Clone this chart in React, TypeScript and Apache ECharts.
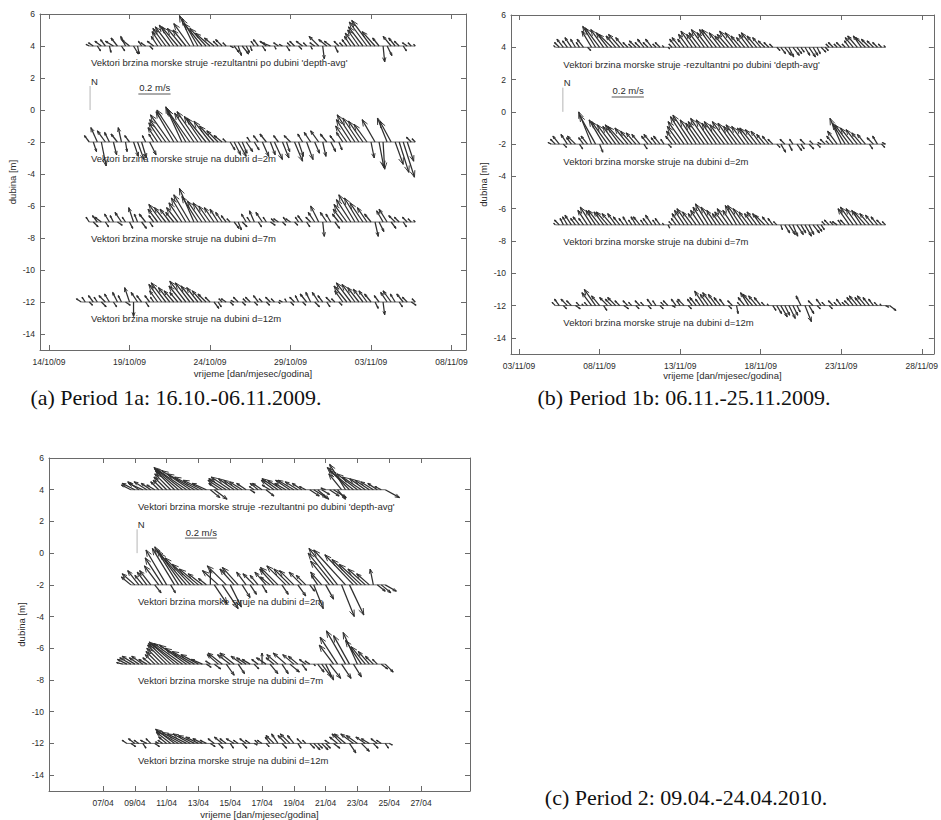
import React, { useEffect, useRef } from "react";
import * as echarts from "echarts";

// ---------------- data ----------------
// current vectors sampled every 6 hours; u = east, v = north, in cm/s
const STEP_DAYS = 0.25;
const KX = 0.1; // days per cm/s (0.2 m/s reference bar = 2 days)
const KY = 0.1; // metres of plot per cm/s

const BASELINES = [4, -2, -7, -12];
const ROW_LABELS = [
  "Vektori brzina morske struje -rezultantni po dubini 'depth-avg'",
  "Vektori brzina morske struje na dubini d=2m",
  "Vektori brzina morske struje na dubini d=7m",
  "Vektori brzina morske struje na dubini d=12m",
];
const Y_TICKS = [-14, -12, -10, -8, -6, -4, -2, 0, 2, 4, 6];
const X_NAME = "vrijeme [dan/mjesec/godina]";
const Y_NAME = "dubina [m]";
const SCALE_TEXT = "0.2 m/s";
const NORTH_TEXT = "N";
const SCALE_SPEED = 20; // cm/s
const CAPTIONS = [
  "(a) Period 1a: 16.10.-06.11.2009.",
  "(b) Period 1b: 06.11.-25.11.2009.",
  "(c) Period 2: 09.04.-24.04.2010.",
];

// Panel (a): day numbers counted from 0 October 2009
const A_X_TICKS = [14, 19, 24, 29, 34, 39];
const A_X_LABELS = ["14/10/09", "19/10/09", "24/10/09", "29/10/09", "03/11/09", "08/11/09"];
const A_T0 = [16.5, 16.5, 16.5, 16.0];
const A1_U = [-2,-3,2,-4,-3,1,-5,-4,2,-3,-5,3,1,-2,-3,2,-4, -4,-6,-8,-9,-9,-10,-9,-8,-10,-9,-10,-11,-10,-9,-6,-3,-4,-2,2, 3,2,4,2,1, -2,-3,2,-4,-5,1,-3,-2,2,-2,-3,2,-4,-2,1,-3, -6,1,-5,-4,2,-3,-2, -3,-4,-6,-7,-9,-11,-12,-8,-4, 1,3,-5,-4,-3,2,-3,-2,-1];
const A1_V = [1,2,-3,3,4,-4,3,5,-3,6,4,-5,-5,3,2,-2,3, 6,9,11,12,13,12,11,10,14,19,17,14,11,8,5,3,4,2,-1, -4,-6,-5,-4,-3, 3,4,-3,3,2,-2,2,1,-3,2,3,-2,3,2,-2,2, 6,-8,4,3,-4,3,2, 4,6,8,10,12,15,16,9,5, -10,-6,6,5,3,-3,2,2,1];
const A2_U = [-3,2,-4,3,-5,-3,2,-4,-2,1,-3,3,4,3,-2,4,-3, -6,-8,-10,-12,-11,-13,-10,-12,-14,-12,-13,-11,-12,-10,-9,-7,-5,-2, 3,4,5,3,4, -2,3,-3,4,-4,3,5,-3,4,2,-4,5,3,-3,4,-4,3,-5,2,-4,3,-3,2,-4, -7,-9,-11,-10,-9,-8, 2,-8,3,1,-6,-7,5,6,7,4,-3,-2];
const A2_V = [4,-6,9,-15,7,6,-8,5,9,-6,4,-9,-11,-10,4,-8,5, 9,12,14,17,19,20,22,21,20,18,19,16,15,13,10,7,4,2, -5,-8,-9,-7,-6, 3,-5,4,-9,5,-8,-11,4,-10,-6,4,-12,-9,5,-11,6,-7,7,-9,5,-6,4,-5,6, 10,14,17,15,13,11, -10,14,-16,-17,15,13,-14,-19,-22,-12,3,2];
const A3_U = [-2,3,-3,-4,2,-3,-2,3,-4,-2,2,-3,-2,3,-4,2,-3, -6,-8,-7,-6,-5,-7,-8,-9,-10,-9,-10,-9,-8,-7,-6,-5,-4,-3,-2, 3,2,3, -3,-2,-3,2,-4,-2,3,-2,-3,2,-2,-3,2,-2,-3,2,-3,-4, -5,1,-4,-3,3,-4,-6,-8,-9,-10,-9,-8,-6,-4, 2,3,-4,-5,3,-4,-3,2,-3,-2,-1];
const A3_V = [3,-3,4,3,-3,5,4,-2,6,3,-4,9,5,-4,5,-3,4, 8,11,9,8,6,9,12,15,17,21,16,13,12,10,9,8,6,4,2, -4,-5,-3, 5,3,7,-3,6,3,-2,2,2,-2,3,2,-2,3,4,-3,3,6, 10,-9,6,5,-4,5,8,11,14,17,15,12,9,5, -9,-6,7,8,-4,4,3,-3,3,2,1];
const A4_U = [-3,-2,2,-3,-2,3,-4,-3,2,-3,-2,3,-3,0,-4,-3,2,-3,-2, -5,-8,-9,-7,-6,-5,-8,-10,-9,-8,-7,-6,-5,-3, 3,2,-2,-3,2,-2,-3,2,-2,-3,2,-3,-2,2,-3,-2,1,-2,-1,2,-3,-2,2,-4,-3,3,-4,-3,2,-3,-2,2, -5,-8,-9,-8,-7,-6,-5,-4, 2,-3,1,-4,-5,-3,2,-4,-3,3,-2];
const A4_V = [2,3,-2,4,3,-3,4,5,-3,6,4,-2,9,-9,6,4,-3,4,3, 7,11,12,9,7,6,10,13,12,10,9,7,5,3, -4,-3,2,2,-2,1,3,-2,2,3,-2,4,2,-2,3,2,-1,1,2,-2,3,4,-2,5,6,-3,6,4,-3,3,2,-2, 7,10,12,11,9,8,7,5, -4,4,-8,6,7,5,-3,5,3,-2,2];

// Panel (b): day numbers counted from 0 October 2009
const B_X_TICKS = [34, 39, 44, 49, 54, 59];
const B_X_LABELS = ["03/11/09", "08/11/09", "13/11/09", "18/11/09", "23/11/09", "28/11/09"];
const B_T0 = [36.25, 36.0, 36.25, 36.25];
const B1_U = [-1,-3,-4,-3,-4,-3,-2,-4,2, -6,-8,-9,-8,-7,-8,-6,-7,-5,-3,-2, -4,-3,-4,-3,-4,-2,-3,-1,1,-2, -4,-5,-4,-6,-7,-6,-7,-8,-7,-8,-9,-7,-6,-7,-8,-7,-6,-5,-6,-7,-6,-5,-4,-3,-2, 2,3,4,3,4,3,2,3,4,3,2,3,2, -2,-3,-2,-3,-2,-3,-5,-6,-5,-6,-5,-4,-3,-2,-1];
const B1_V = [1,3,5,4,6,5,3,5,-2, 10,13,12,11,9,8,7,8,6,3,2, 4,3,5,3,5,2,3,1,-1,2, 5,6,5,8,10,8,9,11,9,11,11,9,7,8,10,9,7,6,8,9,7,6,4,3,2, -2,-4,-5,-6,-5,-4,-3,-5,-6,-5,-4,-3,-2, 2,3,2,3,2,4,6,7,7,6,5,4,3,2,1];
const B2_U = [-2,-3,-4,2,-4,-3,-5,2,-3,-4, -8,-10,2,-9,-10,-9,-8,-9,-10,-8,-7,-6,-5,2,-4,-5,-3,-4,-2, 2,-4,-6,-8,-10,-11,-12,-10,-9,-10,-11,-10,-9,-10,-9,-10,-9,-8,-9,-8,-7,-8,-7,-6,-5,-4,-3, 2,3,-3,2,-2,3,2,-3,3,-2,2,-2,-3,-2, -4,-6,-7,-8,-9,-8,-7,-6,-5,2,-4,-3,2,-2];
const B2_V = [1,3,5,-2,6,4,5,-3,4,5, 20,18,-5,15,14,12,11,12,11,10,8,7,6,-3,5,6,4,5,3, -2,5,8,11,14,17,18,15,13,14,16,15,13,14,12,14,13,11,12,11,10,10,9,8,6,5,3, -2,-5,3,-4,3,-4,-3,3,-3,2,-2,1,3,2, 5,8,16,13,12,10,9,7,6,-3,4,5,-2,1];
const B3_U = [-1,-3,-2,-3,-4,-3,-4,-3, -6,-7,-6,-7,-6,-7,-6,-5,-4,-3, -3,-2,-3,-4,-2,-3,-4,-2,-3,-1,1,-2, -3,-5,-6,-7,-6,-5,-6,-7,-8,-7,-6,-5,-6,-7,-6,-7,-8,-7,-6,-5,-6,-5,-6,-4,-3,-2, 1,3,4,3,4,3,4,3,4,3,2, -2,-3,-2,-3,-2,-3,-7,-8,-7,-6,-7,-6,-5,-4,-3,-2];
const B3_V = [1,3,4,5,6,4,5,4, 9,11,9,9,8,8,7,7,5,4, 5,3,5,5,3,4,6,3,4,1,-2,2, 4,7,9,10,8,7,9,11,13,11,9,7,8,10,9,12,12,10,8,7,8,7,6,5,4,2, -3,-5,-6,-7,-6,-5,-7,-6,-5,-4,-3, 2,3,2,2,3,3,10,11,10,9,8,7,6,5,3,2];
const B4_U = [-2,-3,2,-4,-3,3,-2,-1,-2, -6,-7,-5,2,-5,-4,-5,-3, 3,-3,-2,2,-3,-2,2,-3,-2,2,-2,-3,2,-3,-2,-4,2,-3,-4,-3, -6,-5,-6,-5,-4,-3,2,-3,1,-2,-4,-5,-6,-5,-4,-2,-1, 2,3,4,3,4,3,2,-3,4,3, -3,2,-3,-2,2,-3,-2,-3,-2,-3,-4,-5,-4,-5,-4,-3,-2,-1,2,4];
const B4_V = [2,4,-2,4,3,-2,2,1,2, 8,10,6,-3,5,4,5,3, -2,3,2,-2,3,2,-2,4,3,-2,2,3,-1,4,3,4,-2,4,5,4, 9,7,8,7,5,4,-2,3,-5,2,5,8,7,6,5,2,1, -3,-5,-7,-6,-8,-6,-4,6,-10,-5, 3,-2,4,2,-2,3,2,4,2,3,5,6,5,6,5,4,2,1,-1,-3];

// Panel (c): day numbers in April 2010
const C_X_TICKS = [7, 9, 11, 13, 15, 17, 19, 21, 23, 25, 27];
const C_X_LABELS = ["07/04", "09/04", "11/04", "13/04", "15/04", "17/04", "19/04", "21/04", "23/04", "25/04", "27/04"];
const C_T0 = [8.75, 8.75, 8.25, 8.5];
const C1_U = [-6,-8,-7,-9,-8,-6,-5, -5,-6,-8,-10,-12,-15,-18,-19,-18,-17,-15,-12,-9, 6,8, -6,-9,-11,-12,-10,-9,-8,-6, 3,-3,-5,-6,5,-5,-8,-10,-9,-7,-9,-10,-8,-6,-4, 6,8,7,5,-3,6,8,5, -8,-10,-14,-15,-13,-12,-10,-9,-8,-6,-4, 9];
const C1_V = [3,4,5,4,5,4,3, 5,6,8,10,12,13,14,13,12,10,8,6,4, -5,-6, 4,6,7,8,7,6,5,4, -2,2,4,4,-4,3,6,7,6,4,6,6,5,4,2, -4,-5,-6,-3,1,-4,-5,-6, 10,16,14,12,10,8,7,6,5,4,2, -5];
const C2_U = [-6,-8,-7,-5,-6,-7,4,-9,-11,-13,3,-14,-15,-16,-17,-16,-14,-12,-9,-5, 0,8,-10,10,-12,7,-9,-10,5,-6, 4,-7,-5,3,-7,-6,-9,-11,4,-12,-10,-9,5,-8,-6,3,6,-4,-7,5, -12,-16,-18,8,-20,9,-18,-16,-14,-11,-8, -2,5,6,7];
const C2_V = [5,7,9,6,8,9,-5,12,17,22,-5,23,24,22,20,17,13,10,7,4, 10,-12,9,-15,12,-14,10,11,-8,8, -6,7,6,-5,8,5,10,11,-6,12,10,9,-7,8,6,-4,-15,6,8,-9, 15,20,23,-20,22,-19,19,16,13,10,7, 10,-4,-5,-4];
const C3_U = [-4,-6,-7,-8,-6,-7,-5, -5,-6,-8,-10,-12,-14,-16,-17,-18,-17,-16,-14,-11,-7, 3,-3,4,-7,-9,5,-8,-9,4,-7,-6,-5,3,-4,0,-6,5,-5,-7,4,-8,6,-7,-6,3,-4,-3,1,4,6,5,7, -9,-11,6,-12,-10,5,-9,-10,-9,-7,-5,-3,4,5];
const C3_V = [1,3,4,5,4,5,3, 4,6,8,10,12,13,14,13,13,12,10,8,6,3, -2,2,-3,6,7,-7,6,7,-6,5,4,3,-3,3,7,4,-6,4,6,-6,7,-5,6,5,-4,3,2,-1,-5,-8,-10,-9, 12,17,-9,21,18,-8,20,15,11,8,5,3,-3,-5];
const C4_U = [-3,3,-4,-3,2,-4,-3,3,-2,-3,-5, -9,-12,-14,-13,-12,-11,-10,-8,-6,-4, 3,-4,3,-5,-4,2,-5,-3,3,-4,-3,2,-2,-3,2,-3,-5,-4,3,-5,-6,-4,2,-3,-2,3,4,3,4,3,-3,4, -5,-6,-7,4,-8,-7,5,-6,-5,3,-4,-3,2,2];
const C4_V = [2,-2,3,2,-3,2,3,-2,1,2,4, 7,9,8,7,6,6,5,4,3,2, -2,3,-3,4,3,-3,3,2,-3,3,2,-1,2,2,-2,4,5,6,-3,5,6,5,-3,3,2,-3,-4,-3,-4,-3,2,-3, 4,6,6,-6,6,5,-5,4,3,-3,3,2,-3,-1];

// ---------------- layout & style ----------------
const PANELS = [
  {
    grid: { left: 40, top: 14, width: 426, height: 336 },
    xMin: 13.44, xMax: 39.9, ticks: A_X_TICKS, labels: A_X_LABELS, xNameGap: 18,
    t0: A_T0, u: [A1_U, A2_U, A3_U, A4_U], v: [A1_V, A2_V, A3_V, A4_V],
    labelX: 16.6, northX: 16.55, scaleX: 19.55, scaleY: 1.0,
    caption: { x: 176, y: 397 },
  },
  {
    grid: { left: 511, top: 15, width: 424, height: 339 },
    xMin: 33.5, xMax: 59.75, ticks: B_X_TICKS, labels: B_X_LABELS, xNameGap: 16,
    t0: B_T0, u: [B1_U, B2_U, B3_U, B4_U], v: [B1_V, B2_V, B3_V, B4_V],
    labelX: 36.75, northX: 36.72, scaleX: 39.75, scaleY: 0.92,
    caption: { x: 684, y: 397 },
  },
  {
    grid: { left: 49, top: 458, width: 421, height: 336 },
    xMin: 3.6, xMax: 30.08, ticks: C_X_TICKS, labels: C_X_LABELS, xNameGap: 18,
    t0: C_T0, u: [C1_U, C2_U, C3_U, C4_U], v: [C1_V, C2_V, C3_V, C4_V],
    labelX: 9.2, northX: 9.14, scaleX: 12.15, scaleY: 0.95,
    caption: { x: 686, y: 797 },
  },
];

const SANS = "'Liberation Sans', Arial, Helvetica, sans-serif";
const SERIF = "'Liberation Serif', 'Times New Roman', serif";
const AXIS_COLOR = "#6a6a6a";
const TEXT_COLOR = "#2b2b2b";
const VEC_COLOR = "#2e2e2e";
const VEC_WIDTH = 1.25;
const TICK_FONT = 8.5;
const TEXT_FONT = 9.5;

const renderArrow = (params: any, api: any) => {
  const t = api.value(0);
  const b = api.value(1);
  const u = api.value(2);
  const v = api.value(3);
  const p0 = api.coord([t, b]);
  const p1 = api.coord([t + u * KX, b + v * KY]);
  const dx = p1[0] - p0[0];
  const dy = p1[1] - p0[1];
  const len = Math.hypot(dx, dy);
  const children: any[] = [
    {
      type: "line",
      shape: { x1: p0[0], y1: p0[1], x2: p1[0], y2: p1[1] },
      style: { stroke: VEC_COLOR, lineWidth: VEC_WIDTH },
    },
  ];
  if (len > 2) {
    const h = Math.min(len * 0.3, 7);
    const ang = Math.atan2(dy, dx);
    const a1 = ang + Math.PI - 0.36;
    const a2 = ang + Math.PI + 0.36;
    children.push({
      type: "polyline",
      shape: {
        points: [
          [p1[0] + h * Math.cos(a1), p1[1] + h * Math.sin(a1)],
          [p1[0], p1[1]],
          [p1[0] + h * Math.cos(a2), p1[1] + h * Math.sin(a2)],
        ],
      },
      style: { stroke: VEC_COLOR, fill: "none", lineWidth: VEC_WIDTH * 0.75 },
    });
  }
  return { type: "group", children };
};

const makeTextRenderer = (texts: string[]) => (params: any, api: any) => {
  const p = api.coord([api.value(0), api.value(1)]);
  return {
    type: "text",
    x: p[0],
    y: p[1],
    style: {
      text: texts[api.value(2)],
      fill: TEXT_COLOR,
      fontSize: TEXT_FONT,
      fontFamily: SANS,
      align: "left",
      verticalAlign: "middle",
      textAlign: "left",
      textVerticalAlign: "middle",
    },
  };
};

function buildOption() {
  const grid: any[] = [];
  const xAxis: any[] = [];
  const yAxis: any[] = [];
  const series: any[] = [];
  const graphic: any[] = [];

  PANELS.forEach((P, p) => {
    grid.push({ ...P.grid, containLabel: false });
    const fmt = (val: number) => {
      const k = P.ticks.findIndex((t) => Math.abs(t - val) < 1e-6);
      return k >= 0 ? P.labels[k] : "";
    };
    const axisLine = { onZero: false, lineStyle: { color: AXIS_COLOR, width: 1 } };
    xAxis.push({
      type: "value", gridIndex: p, position: "bottom", min: P.xMin, max: P.xMax,
      axisLine,
      axisTick: { inside: true, length: 5, customValues: P.ticks, lineStyle: { color: AXIS_COLOR } },
      axisLabel: { customValues: P.ticks, formatter: fmt, color: TEXT_COLOR, fontSize: TICK_FONT, fontFamily: SANS, margin: 7 },
      splitLine: { show: false },
      name: X_NAME, nameLocation: "middle", nameGap: P.xNameGap,
      nameTextStyle: { color: TEXT_COLOR, fontSize: TEXT_FONT, fontFamily: SANS },
    });
    xAxis.push({
      type: "value", gridIndex: p, position: "top", min: P.xMin, max: P.xMax,
      axisLine,
      axisTick: { inside: true, length: 5, customValues: P.ticks, lineStyle: { color: AXIS_COLOR } },
      axisLabel: { show: false },
      splitLine: { show: false },
    });
    yAxis.push({
      type: "value", gridIndex: p, position: "left", min: -15, max: 6,
      axisLine,
      axisTick: { inside: true, length: 5, customValues: Y_TICKS, lineStyle: { color: AXIS_COLOR } },
      axisLabel: { customValues: Y_TICKS, formatter: (v: number) => String(v), color: TEXT_COLOR, fontSize: TICK_FONT, fontFamily: SANS, margin: 5 },
      splitLine: { show: false },
      name: Y_NAME, nameLocation: "middle", nameGap: 23,
      nameTextStyle: { color: TEXT_COLOR, fontSize: TEXT_FONT, fontFamily: SANS },
    });
    yAxis.push({
      type: "value", gridIndex: p, position: "right", min: -15, max: 6,
      axisLine,
      axisTick: { inside: true, length: 5, customValues: Y_TICKS, lineStyle: { color: AXIS_COLOR } },
      axisLabel: { show: false },
      splitLine: { show: false },
    });

    const xi = 2 * p;
    const yi = 2 * p;

    // baselines
    BASELINES.forEach((base, r) => {
      const n = P.u[r].length;
      series.push({
        type: "line", xAxisIndex: xi, yAxisIndex: yi, symbol: "none", silent: true,
        lineStyle: { color: "#444", width: 0.8 },
        data: [[P.t0[r], base], [P.t0[r] + (n - 1) * STEP_DAYS, base]],
        z: 2,
      });
    });

    // vectors
    const data: number[][] = [];
    BASELINES.forEach((base, r) => {
      P.u[r].forEach((uu, i) => {
        data.push([P.t0[r] + i * STEP_DAYS, base, uu, P.v[r][i]]);
      });
    });
    series.push({
      type: "custom", xAxisIndex: xi, yAxisIndex: yi, silent: true,
      dimensions: ["t", "base", "u", "v"], encode: { x: 0, y: 1 },
      renderItem: renderArrow, data, z: 3,
    });

    // north indicator & scale bar
    series.push({
      type: "line", xAxisIndex: xi, yAxisIndex: yi, symbol: "none", silent: true,
      lineStyle: { color: "#b5b5b5", width: 1 },
      data: [[P.northX, 0], [P.northX, 1.5]],
    });
    series.push({
      type: "line", xAxisIndex: xi, yAxisIndex: yi, symbol: "none", silent: true,
      lineStyle: { color: "#444", width: 0.9 },
      data: [[P.scaleX, P.scaleY], [P.scaleX + SCALE_SPEED * KX, P.scaleY]],
    });

    // texts
    const texts = [...ROW_LABELS, NORTH_TEXT, SCALE_TEXT];
    const textData: number[][] = BASELINES.map((b, r) => [P.labelX, b - 1.05, r]);
    textData.push([P.northX + 0.05, 1.8, 4]);
    textData.push([P.scaleX + 0.05, P.scaleY + 0.38, 5]);
    series.push({
      type: "custom", xAxisIndex: xi, yAxisIndex: yi, silent: true,
      renderItem: makeTextRenderer(texts), data: textData, z: 5,
    });

    graphic.push({
      type: "text", x: P.caption.x, y: P.caption.y, silent: true,
      style: {
        text: CAPTIONS[p], fill: "#111", fontSize: 22, fontFamily: SERIF,
        textAlign: "center", textVerticalAlign: "middle", align: "center", verticalAlign: "middle",
      },
    });
  });

  return {
    animation: false,
    backgroundColor: "#ffffff",
    grid, xAxis, yAxis, series, graphic,
  };
}

export default function App() {
  const ref = useRef<HTMLDivElement>(null);
  useEffect(() => {
    if (!ref.current) return;
    const chart = echarts.init(ref.current, null, { renderer: "svg" });
    chart.setOption(buildOption() as any);
    return () => chart.dispose();
  }, []);
  return (
    <div
      ref={ref}
      style={{ position: "absolute", left: 0, top: 0, width: 941, height: 820, background: "#ffffff" }}
    />
  );
}
